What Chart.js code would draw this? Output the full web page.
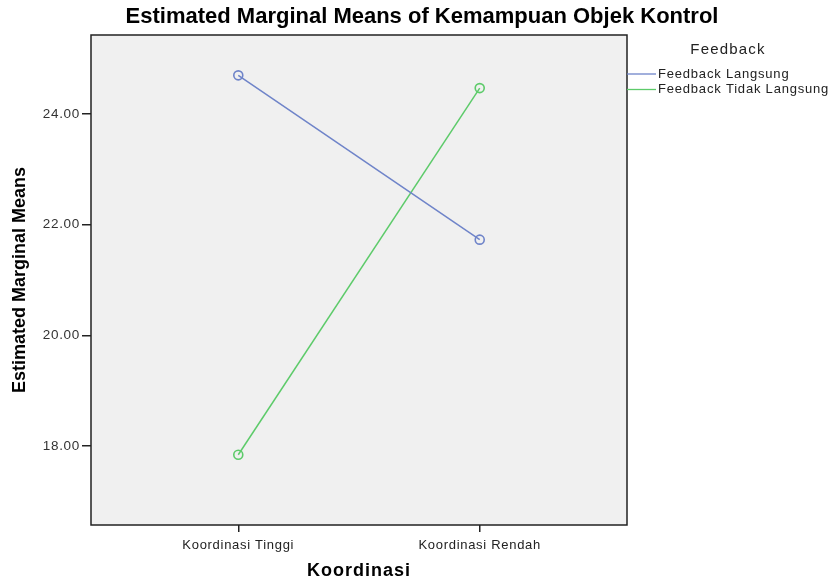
<!DOCTYPE html>
<html lang="en">
<head>
    <meta charset="UTF-8">
    <title>Estimated Marginal Means</title>
    <style>
        html, body { margin: 0; padding: 0; background: #fff; }
        #wrap { width: 830px; height: 581px; }
    </style>
</head>
<body>
    <div id="wrap">
        <canvas id="myChart" width="830" height="581"></canvas>
    </div>

    <script src="https://cdn.jsdelivr.net/npm/chart.js"></script>

    <script>
        // data
        var categories = ['Koordinasi Tinggi', 'Koordinasi Rendah'];
        var seriesNames = ['Feedback Langsung', 'Feedback Tidak Langsung'];
        var langsung = [24.70, 21.73];
        var tidakLangsung = [17.84, 24.47];
        var yTicks = [18, 20, 22, 24];

        var FONT = '"Liberation Sans", Arial, sans-serif';
        var blue = '#6f84c9';
        var green = '#5dcb6a';

        function toPoints(values) {
            return values.map(function (v, i) { return { x: i, y: v }; });
        }

        function text(ctx, str, x, y, font, spacing, align) {
            ctx.font = font;
            ctx.letterSpacing = spacing;
            ctx.textAlign = align || 'center';
            ctx.fillText(str, x, y);
        }

        // plot background, frame, titles and the legend on the right
        var framePlugin = {
            id: 'frame',
            beforeUpdate: function (chart) {
                // the original renders its text slightly wider than Arial
                chart.ctx.letterSpacing = '0.7px';
            },
            beforeDatasetsDraw: function (chart) {
                var a = chart.chartArea, ctx = chart.ctx;
                ctx.save();
                ctx.fillStyle = '#f0f0f0';
                ctx.fillRect(a.left, a.top, a.right - a.left, a.bottom - a.top);
                ctx.restore();
            },
            afterDraw: function (chart) {
                var a = chart.chartArea, ctx = chart.ctx;
                ctx.save();
                ctx.strokeStyle = '#222';
                ctx.lineWidth = 1.5;
                ctx.strokeRect(a.left, a.top, a.right - a.left, a.bottom - a.top);

                ctx.textBaseline = 'middle';
                ctx.fillStyle = '#000';
                text(ctx, 'Estimated Marginal Means of Kemampuan Objek Kontrol', 422, 17, 'bold 22px ' + FONT, '0px');
                text(ctx, 'Koordinasi', (a.left + a.right) / 2, 571, 'bold 18px ' + FONT, '1px');

                ctx.save();
                ctx.translate(20, (a.top + a.bottom) / 2);
                ctx.rotate(-Math.PI / 2);
                text(ctx, 'Estimated Marginal Means', 0, 0, 'bold 18px ' + FONT, '0px');
                ctx.restore();

                // legend
                ctx.fillStyle = '#222';
                text(ctx, 'Feedback', 728, 50, '15px ' + FONT, '1.2px');
                chart.data.datasets.forEach(function (ds, i) {
                    var y = 74 + i * 15.5;
                    ctx.strokeStyle = ds.borderColor;
                    ctx.lineWidth = 1.3;
                    ctx.beginPath();
                    ctx.moveTo(a.right, y);
                    ctx.lineTo(a.right + 29, y);
                    ctx.stroke();
                    ctx.fillStyle = '#222';
                    text(ctx, ds.label, a.right + 31, y, '13px ' + FONT, '0.8px', 'left');
                });
                ctx.restore();
            }
        };

        var ctx = document.getElementById('myChart');

        var myChart = new Chart(ctx, {
            type: 'line',
            data: {
                datasets: [{
                    label: seriesNames[0],
                    data: toPoints(langsung),
                    borderColor: blue,
                    borderWidth: 1.5,
                    pointRadius: 4.5,
                    pointBorderWidth: 1.6,
                    pointBackgroundColor: 'rgba(0,0,0,0)',
                    pointBorderColor: blue
                }, {
                    label: seriesNames[1],
                    data: toPoints(tidakLangsung),
                    borderColor: green,
                    borderWidth: 1.5,
                    pointRadius: 4.5,
                    pointBorderWidth: 1.6,
                    pointBackgroundColor: 'rgba(0,0,0,0)',
                    pointBorderColor: green
                }]
            },
            options: {
                responsive: false,
                animation: false,
                layout: { padding: { left: 0, right: 203, top: 35, bottom: 0 } },
                plugins: {
                    legend: { display: false },
                    title: { display: false },
                    tooltip: { enabled: false }
                },
                scales: {
                    x: {
                        type: 'linear',
                        min: -0.61,
                        max: 1.61,
                        afterBuildTicks: function (scale) {
                            scale.ticks = categories.map(function (c, i) { return { value: i }; });
                        },
                        afterFit: function (scale) { scale.height = 56; },
                        grid: { drawOnChartArea: false, drawTicks: true, tickLength: 7, color: '#222', lineWidth: 1.5 },
                        border: { display: false },
                        ticks: {
                            padding: 6,
                            color: '#222',
                            font: { family: FONT, size: 13 },
                            callback: function (v) { return categories[v]; }
                        }
                    },
                    y: {
                        min: 16.57,
                        max: 25.43,
                        afterBuildTicks: function (scale) {
                            scale.ticks = yTicks.map(function (v) { return { value: v }; });
                        },
                        afterFit: function (scale) { scale.width = 91; },
                        grid: { drawOnChartArea: false, drawTicks: true, tickLength: 9, color: '#222', lineWidth: 1.5 },
                        border: { display: false },
                        ticks: {
                            padding: 2,
                            color: '#333',
                            font: { family: FONT, size: 13.5 },
                            callback: function (v) { return v.toFixed(2); }
                        }
                    }
                }
            },
            plugins: [framePlugin]
        });
    </script>
</body>
</html>
